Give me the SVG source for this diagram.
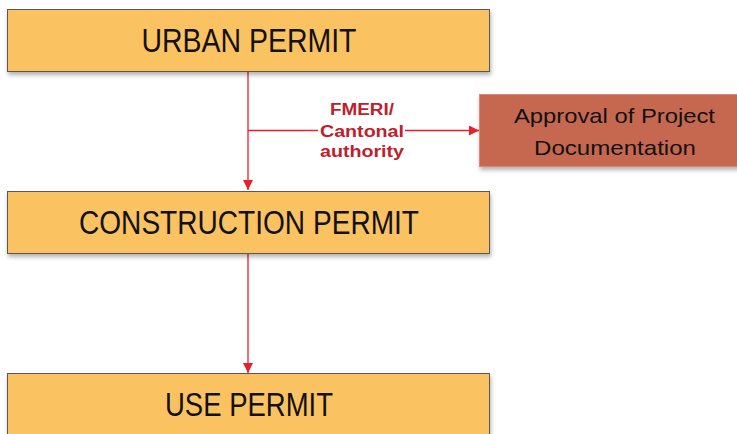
<svg xmlns="http://www.w3.org/2000/svg" width="737" height="434" viewBox="0 0 737 434">
<defs>
<filter id="sh" x="-5%" y="-20%" width="110%" height="150%">
<feDropShadow dx="1" dy="3" stdDeviation="2" flood-color="#000" flood-opacity="0.3"/>
</filter>
<marker id="ah" viewBox="0 0 10 10" refX="10" refY="5" markerWidth="10" markerHeight="10" markerUnits="userSpaceOnUse" orient="auto">
<path d="M0,0 L10,5 L0,10 Z" fill="#E8202A"/>
</marker>
</defs>
<style>
.box{fill:#FBC262;stroke:#595959;stroke-width:1;filter:url(#sh)}
.red{fill:#C6674F;stroke:#D88A76;stroke-width:1;filter:url(#sh)}
.t{font-family:"Liberation Sans",Arial,sans-serif;fill:#111;text-anchor:middle}
.big{font-size:33px}
.mid{font-size:21px}
.lbl{font-family:"Liberation Sans",Arial,sans-serif;font-weight:bold;font-size:16px;fill:#C0202A;text-anchor:middle}
.ln{stroke:#E8202A;stroke-width:1.3;fill:none}
</style>
<g id="connectors">
<line class="ln" x1="248" y1="72" x2="248" y2="190" marker-end="url(#ah)"/>
<line class="ln" x1="248" y1="130.5" x2="318" y2="130.5"/>
<line class="ln" x1="405" y1="130.5" x2="479" y2="130.5" marker-end="url(#ah)"/>
<line class="ln" x1="248" y1="254" x2="248" y2="373" marker-end="url(#ah)"/>
<text class="lbl" x="362" y="115" textLength="64" lengthAdjust="spacingAndGlyphs">FMERI/</text>
<text class="lbl" x="362" y="137" textLength="84" lengthAdjust="spacingAndGlyphs">Cantonal</text>
<text class="lbl" x="362" y="157" textLength="84" lengthAdjust="spacingAndGlyphs">authority</text>
</g>
<g id="urban">
<rect class="box" x="7.5" y="9.5" width="482" height="62"/>
<text class="t big" x="249" y="52" textLength="215" lengthAdjust="spacingAndGlyphs">URBAN PERMIT</text>
</g>
<g id="approval">
<rect class="red" x="479.5" y="94.5" width="262" height="72"/>
<text class="t mid" x="614.5" y="123" textLength="201" lengthAdjust="spacingAndGlyphs">Approval of Project</text>
<text class="t mid" x="615" y="155" textLength="162" lengthAdjust="spacingAndGlyphs">Documentation</text>
</g>
<g id="construction">
<rect class="box" x="7.5" y="191.5" width="482" height="62"/>
<text class="t big" x="249" y="233.5" textLength="340" lengthAdjust="spacingAndGlyphs">CONSTRUCTION PERMIT</text>
</g>
<g id="use">
<rect class="box" x="7.5" y="373.5" width="482" height="70"/>
<text class="t big" x="249" y="416" textLength="168" lengthAdjust="spacingAndGlyphs">USE PERMIT</text>
</g>
</svg>
